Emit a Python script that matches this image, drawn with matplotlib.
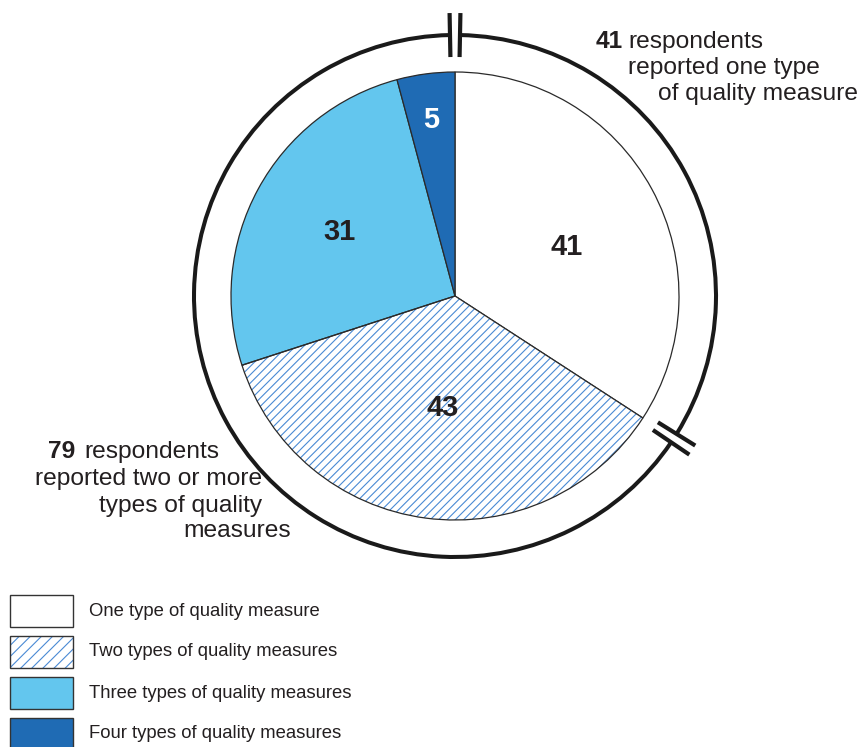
import matplotlib
matplotlib.use("Agg")
import matplotlib.pyplot as plt
import numpy as np
from matplotlib.patches import Arc, Rectangle, Wedge

# data
slice_values = [41, 43, 31, 5]
slice_colors = ["#ffffff", "#ffffff", "#63c6ee", "#1f6bb4"]
label_colors = ["#231f20", "#231f20", "#231f20", "#ffffff"]
legend_labels = [
    "One type of quality measure",
    "Two types of quality measures",
    "Three types of quality measures",
    "Four types of quality measures",
]
group_one = 41
group_many = 79

HATCH_BLUE = "#4a8ad4"
INK = "#231f20"
W, H = 862, 747
CX, CY = 455, H - 296
R_PIE = 224
R_RING = 261

plt.rcParams["font.family"] = ["Liberation Sans", "DejaVu Sans"]
plt.rcParams["hatch.linewidth"] = 0.8


def px(size):
    # pixel size -> points at dpi 100
    return size * 0.72


fig = plt.figure(figsize=(W / 100, H / 100), dpi=100)
ax = fig.add_axes([0, 0, 1, 1])

wedges, _ = ax.pie(
    slice_values,
    colors=slice_colors,
    startangle=90,
    counterclock=False,
    radius=R_PIE,
    center=(CX, CY),
    frame=True,
    wedgeprops=dict(edgecolor="#2a2a2a", linewidth=0.9),
)

# hatched slice: hatch in blue, outline drawn separately
hw = wedges[1]
hw.set_edgecolor(HATCH_BLUE)
hw.set_linewidth(0)
hw.set_hatch("////")
ax.add_patch(Wedge((CX, CY), R_PIE, hw.theta1, hw.theta2, fill=False,
                   edgecolor="#2a2a2a", linewidth=0.9, zorder=3))

# slice value labels
label_pos = [(567, 247), (443, 408), (340, 232), (431, 120)]
for val, (x, y), c in zip(slice_values, label_pos, label_colors):
    ax.text(x, H - y, str(val), ha="center", va="center", fontsize=px(29),
            fontweight="bold", color=c, zorder=4)

# outer ring with two breaks
total = sum(slice_values)
a_top = 90.0
a_break = 90.0 - 360.0 * group_one / total
gap = np.degrees(5.0 / R_RING)
ring_kw = dict(color="#1a1a1a", linewidth=2.9)
ax.add_patch(Arc((CX, CY), 2 * R_RING, 2 * R_RING, theta1=a_break + gap,
                 theta2=a_top - gap, **ring_kw))
ax.add_patch(Arc((CX, CY), 2 * R_RING, 2 * R_RING, theta1=a_top + gap,
                 theta2=a_break + 360 - gap, **ring_kw))
for a in (a_top, a_break):
    for s in (-1, 1):
        t = np.radians(a + s * gap)
        r0, r1 = R_RING - 22, R_RING + 22
        ax.plot([CX + r0 * np.cos(t), CX + r1 * np.cos(t)],
                [CY + r0 * np.sin(t), CY + r1 * np.sin(t)],
                color="#1a1a1a", linewidth=3.0, solid_capstyle="butt")

# annotations
ann = px(24.5)
ax.text(596, H - 42, str(group_one), fontsize=ann, fontweight="bold",
        color=INK, ha="left", va="center")
ax.text(628, H - 42, "respondents", fontsize=ann, color=INK, ha="left", va="center")
ax.text(820, H - 68, "reported one type", fontsize=ann, color=INK, ha="right", va="center")
ax.text(858, H - 94, "of quality measure", fontsize=ann, color=INK, ha="right", va="center")

ax.text(48, H - 452, str(group_many), fontsize=ann, fontweight="bold",
        color=INK, ha="left", va="center")
ax.text(84, H - 452, "respondents", fontsize=ann, color=INK, ha="left", va="center")
ax.text(262, H - 479, "reported two or more", fontsize=ann, color=INK, ha="right", va="center")
ax.text(262, H - 506, "types of quality", fontsize=ann, color=INK, ha="right", va="center")
ax.text(291, H - 531, "measures", fontsize=ann, color=INK, ha="right", va="center")

# legend
for i, (lab, col) in enumerate(zip(legend_labels, slice_colors)):
    top = 595 + 41 * i
    y0 = H - top - 32
    if i == 1:
        ax.add_patch(Rectangle((10, y0), 63, 32, facecolor="white",
                               edgecolor=HATCH_BLUE, linewidth=0, hatch="///"))
    else:
        ax.add_patch(Rectangle((10, y0), 63, 32, facecolor=col, linewidth=0))
    ax.add_patch(Rectangle((10, y0), 63, 32, fill=False, edgecolor="#333333",
                           linewidth=1.0))
    ax.text(89, y0 + 16, lab, fontsize=px(18.5), color=INK, ha="left", va="center")

ax.set_xlim(0, W)
ax.set_ylim(0, H)
ax.set_aspect("equal")
ax.axis("off")

fig.savefig("out.png", dpi=100)
